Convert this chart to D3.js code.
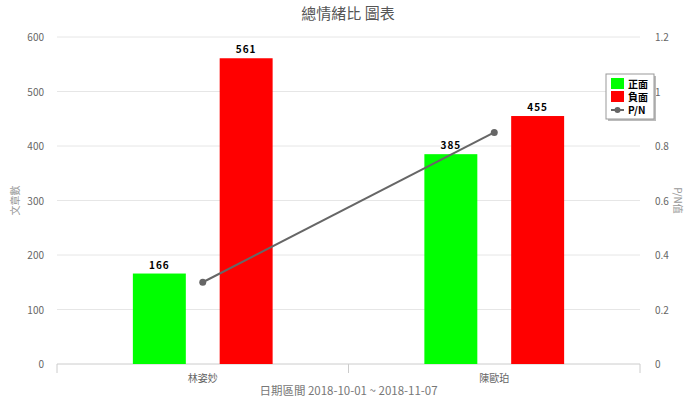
<!DOCTYPE html>
<html>
<head>
<meta charset="utf-8">
<script src="https://cdn.jsdelivr.net/npm/d3@7"></script>
<style>
  body { margin: 0; background: #fff; }
  text { font-family: "Noto Sans CJK TC", "Noto Sans", sans-serif; }
</style>
</head>
<body>
<script>
'use strict'
const names = ['林姿妙', '陳歐珀']
const positive = [166, 385]
const negative = [561, 455]
const ratio = [0.3, 0.85]
const leftTicks = [0, 100, 200, 300, 400, 500, 600]
const rightTicks = [0, 0.2, 0.4, 0.6, 0.8, 1, 1.2]

const W = 696, H = 409
const margin = {top: 37, right: 56, bottom: 45, left: 57}
const width = W - margin.left - margin.right
const height = H - margin.top - margin.bottom

const svg = d3.select('body').append('svg')
  .attr('width', W).attr('height', H)

svg.append('text')
  .attr('x', W / 2).attr('y', 19)
  .attr('text-anchor', 'middle')
  .attr('font-size', '15px').attr('fill', '#555')
  .text('總情緒比 圖表')

const g = svg.append('g')
  .attr('transform', `translate(${margin.left}, ${margin.top})`)

const x = d3.scaleBand().domain(names).range([0, width])
const y = d3.scaleLinear().domain([0, 600]).range([height, 0])
const y2 = d3.scaleLinear().domain([0, 1.2]).range([height, 0])

// grid
g.selectAll('line.grid').data(leftTicks.slice(1))
  .enter().append('line')
  .attr('class', 'grid')
  .attr('x1', 0).attr('x2', width)
  .attr('y1', d => y(d)).attr('y2', d => y(d))
  .attr('stroke', '#e6e6e6')

// left axis labels
g.selectAll('text.yl').data(leftTicks)
  .enter().append('text')
  .attr('class', 'yl')
  .attr('x', -13).attr('y', d => y(d) + 4)
  .attr('text-anchor', 'end')
  .attr('font-size', '10px').attr('fill', '#666')
  .text(d => d)

// right axis labels
g.selectAll('text.yr').data(rightTicks)
  .enter().append('text')
  .attr('class', 'yr')
  .attr('x', width + 15).attr('y', d => y2(d) + 4)
  .attr('text-anchor', 'start')
  .attr('font-size', '10px').attr('fill', '#666')
  .text(d => d)

// axis titles
svg.append('text')
  .attr('transform', `translate(19, ${margin.top + height / 2}) rotate(-90)`)
  .attr('text-anchor', 'middle')
  .attr('font-size', '10px').attr('fill', '#999')
  .text('文章數')
svg.append('text')
  .attr('transform', `translate(674, ${margin.top + height / 2}) rotate(90)`)
  .attr('text-anchor', 'middle')
  .attr('font-size', '10px').attr('fill', '#999')
  .text('P/N值')

// bottom axis
const xAxis = g.append('g')
  .attr('transform', `translate(0, ${height})`)
xAxis.append('line')
  .attr('x1', 0).attr('x2', width)
  .attr('stroke', '#ccc')
xAxis.selectAll('line.tick').data([0, width / 2, width])
  .enter().append('line')
  .attr('class', 'tick')
  .attr('x1', d => d).attr('x2', d => d)
  .attr('y1', 0).attr('y2', 9)
  .attr('stroke', '#ccc')
xAxis.selectAll('text').data(names)
  .enter().append('text')
  .attr('x', d => x(d) + x.bandwidth() / 2)
  .attr('y', 18)
  .attr('text-anchor', 'middle')
  .attr('font-size', '10px').attr('fill', '#666')
  .text(d => d)
svg.append('text')
  .attr('x', margin.left + width / 2).attr('y', 395)
  .attr('text-anchor', 'middle')
  .attr('font-size', '11.5px').attr('fill', '#777')
  .text('日期區間 2018-10-01 ~ 2018-11-07')

// bars
const sub = d3.scaleBand().domain(['p', 'n']).range([0, x.bandwidth()])
  .paddingInner(0.39).paddingOuter(0.874)
const barData = []
names.forEach((n, i) => {
  barData.push({name: n, key: 'p', v: positive[i], color: '#00ff00'})
  barData.push({name: n, key: 'n', v: negative[i], color: '#ff0000'})
})
g.selectAll('rect.bar').data(barData)
  .enter().append('rect')
  .attr('class', 'bar')
  .attr('x', d => x(d.name) + sub(d.key))
  .attr('width', sub.bandwidth())
  .attr('y', d => y(d.v))
  .attr('height', d => height - y(d.v))
  .attr('fill', d => d.color)

g.selectAll('text.val').data(barData)
  .enter().append('text')
  .attr('class', 'val')
  .attr('x', d => x(d.name) + sub(d.key) + sub.bandwidth() / 2)
  .attr('y', d => y(d.v) - 5)
  .attr('text-anchor', 'middle')
  .attr('font-size', '10px').attr('font-weight', 'bold')
  .attr('letter-spacing', '1px')
  .attr('font-family', 'DejaVu Sans')
  .attr('fill', '#000')
  .text(d => d.v)

// P/N line
const line = d3.line()
  .x((d, i) => x(names[i]) + x.bandwidth() / 2)
  .y(d => y2(d))
g.append('path')
  .datum(ratio)
  .attr('d', line)
  .attr('fill', 'none')
  .attr('stroke', '#666')
  .attr('stroke-width', 2)
g.selectAll('circle.pt').data(ratio)
  .enter().append('circle')
  .attr('class', 'pt')
  .attr('cx', (d, i) => x(names[i]) + x.bandwidth() / 2)
  .attr('cy', d => y2(d))
  .attr('r', 3.5)
  .attr('fill', '#666')

// legend
const lg = svg.append('g').attr('transform', 'translate(606, 74)')
lg.append('rect')
  .attr('x', 2).attr('y', 2).attr('width', 48).attr('height', 45)
  .attr('fill', '#bbb')
lg.append('rect')
  .attr('width', 48).attr('height', 45)
  .attr('fill', '#fff').attr('stroke', '#999')
const legendItems = [
  {label: '正面', color: '#00ff00', type: 'rect'},
  {label: '負面', color: '#ff0000', type: 'rect'},
  {label: 'P/N', color: '#666', type: 'line'}
]
legendItems.forEach((d, i) => {
  const yy = 4 + i * 13
  if (d.type === 'rect') {
    lg.append('rect').attr('x', 5).attr('y', yy).attr('width', 13).attr('height', 11)
      .attr('fill', d.color)
  } else {
    lg.append('line').attr('x1', 5).attr('x2', 18).attr('y1', yy + 6).attr('y2', yy + 6)
      .attr('stroke', d.color).attr('stroke-width', 2)
    lg.append('circle').attr('cx', 11.5).attr('cy', yy + 6).attr('r', 3).attr('fill', d.color)
  }
  lg.append('text')
    .attr('x', 22).attr('y', yy + 10)
    .attr('font-size', '10px').attr('font-weight', 'bold')
    .attr('fill', '#000')
    .text(d.label)
})
</script>
</body>
</html>
